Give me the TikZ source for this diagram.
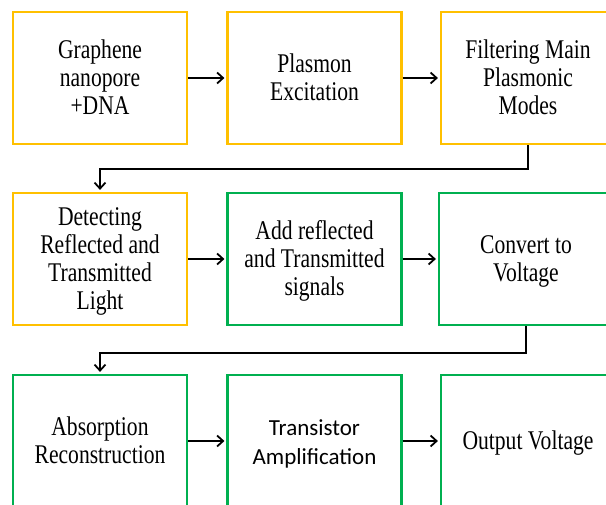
\documentclass[tikz,border=0pt]{standalone}
\usepackage{fontspec}
\usepackage{graphicx}
\setmainfont{Liberation Serif}
\newfontfamily\calibri{Carlito}
\usetikzlibrary{arrows.meta}
\definecolor{stagegold}{RGB}{255,192,0}
\definecolor{stagegreen}{RGB}{0,176,80}
% the serif labels are set narrow, as in the original figure
\newcommand{\stagelabel}[1]{\raisebox{-3pt}[\height][\depth]{\begin{tabular}{@{}c@{}}#1\end{tabular}}}
\newcommand{\narrowlabel}[1]{\scalebox{0.8}[1]{\stagelabel{#1}}}

\begin{document}
\begin{tikzpicture}[x=1pt,y=-1pt,
    stage/.style={draw, line width=2.2pt, minimum width=174pt, minimum height=132pt,
      inner sep=0pt, font=\fontsize{27}{28}\selectfont},
    goldstage/.style={stage, draw=stagegold},
    greenstage/.style={stage, draw=stagegreen},
    flow/.style={line width=1.8pt, shorten >=2pt, -{Straight Barb[length=6pt,width=11pt]}}]
    % Picture frame (the boxes on the right and bottom are cut off)
    \clip (0,0) rectangle (606,505);

    % Row 1
    \node[goldstage] (graphene) at (100,78) {\narrowlabel{Graphene\\nanopore\\+DNA}};
    \node[goldstage] (plasmon) at (314.5,78) {\narrowlabel{Plasmon\\Excitation}};
    \node[goldstage] (filtering) at (528,78) {\narrowlabel{Filtering Main\\Plasmonic\\Modes}};

    % Row 2
    \node[goldstage] (detecting) at (100,259) {\narrowlabel{Detecting\\Reflected and\\Transmitted\\Light}};
    \node[greenstage] (adding) at (314.5,259) {\narrowlabel{Add reflected\\and Transmitted\\signals}};
    \node[greenstage] (converting) at (526,259) {\narrowlabel{Convert to\\Voltage}};

    % Row 3
    \node[greenstage] (absorption) at (100,441) {\narrowlabel{Absorption\\Reconstruction}};
    \node[greenstage, font=\calibri\fontsize{23}{29}\selectfont] (transistor) at (314.5,441) {\stagelabel{Transistor\\Amplification}};
    \node[greenstage] (output) at (528,441) {\narrowlabel{Output Voltage}};

    % Arrows
    \draw[flow] (graphene) -- (plasmon);
    \draw[flow] (plasmon) -- (filtering);
    \draw[flow] (filtering.south) -- ++(0,24) -| (detecting.north);
    \draw[flow] (detecting) -- (adding);
    \draw[flow] (adding) -- (converting);
    \draw[flow] (converting.south) -- ++(0,27) -| (absorption.north);
    \draw[flow] (absorption) -- (transistor);
    \draw[flow] (transistor) -- (output);
\end{tikzpicture}
\end{document}
